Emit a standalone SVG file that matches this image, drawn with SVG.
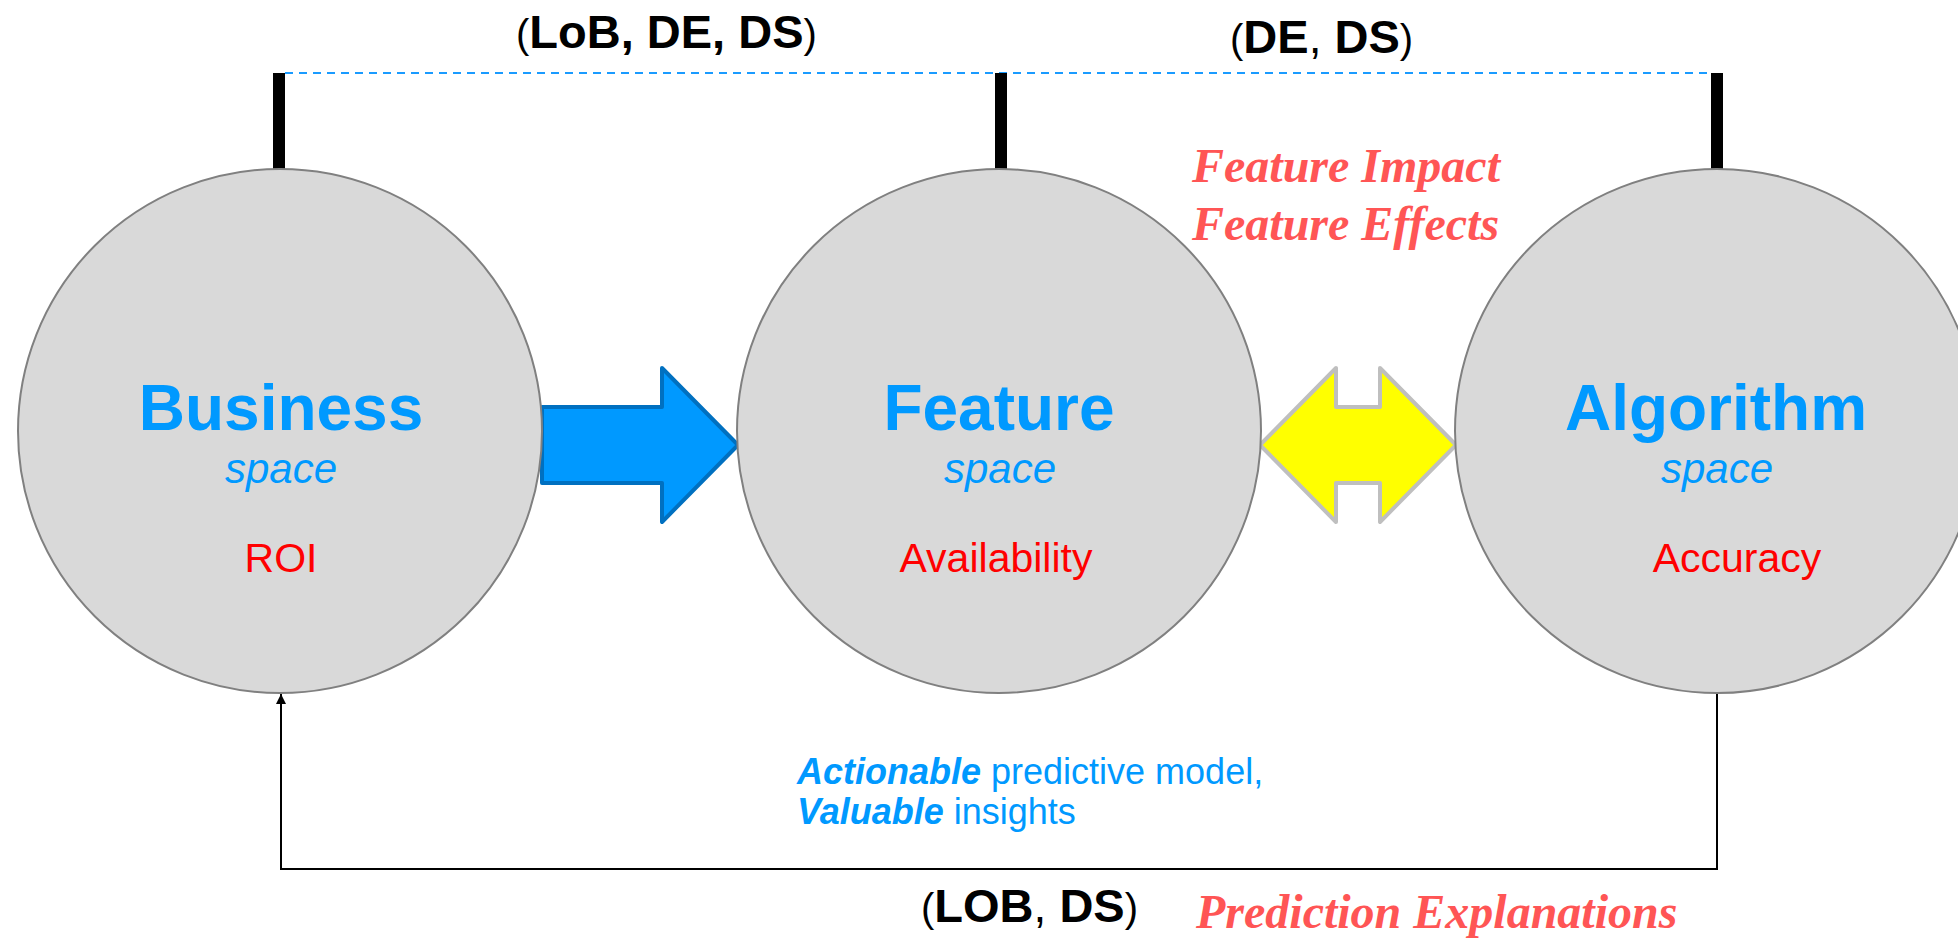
<svg xmlns="http://www.w3.org/2000/svg" width="1958" height="938" viewBox="0 0 1958 938">
<style>
.circ{fill:#d9d9d9;stroke:#808080;stroke-width:2}
.bar{fill:#000}
.title{font-family:"Liberation Sans",Arial,sans-serif;font-weight:bold;font-size:64px;fill:#0099ff;text-anchor:middle}
.sub{font-family:"Liberation Sans",Arial,sans-serif;font-style:italic;font-size:42px;fill:#0099ff;text-anchor:middle}
.metric{font-family:"Liberation Sans",Arial,sans-serif;font-size:41px;fill:#ff0000;text-anchor:middle}
.role{font-family:"Liberation Sans",Arial,sans-serif;fill:#000}
.role .b{font-weight:bold;font-size:47px}
.role .p{font-size:40px}
.role .c{font-size:46px}
.expl{font-family:"Liberation Serif","Times New Roman",serif;font-weight:bold;font-style:italic;font-size:48px;fill:#ff5555}
.out{font-family:"Liberation Sans",Arial,sans-serif;font-size:36px;fill:#0099ff}
.out .bi{font-weight:bold;font-style:italic}
</style>
<defs>
<marker id="ah" viewBox="0 0 10 10" refX="10" refY="5" markerWidth="10" markerHeight="12" markerUnits="userSpaceOnUse" orient="auto">
<path d="M0,0 L10,5 L0,10 z" fill="#000"/>
</marker>
</defs>

<g id="connectors">
<line x1="285" y1="73" x2="1711" y2="73" stroke="#1a9bff" stroke-width="2" stroke-dasharray="8,6"/>
<polyline points="1717,694 1717,869 281,869 281,694" fill="none" stroke="#000" stroke-width="2" marker-end="url(#ah)"/>
<path id="arrow-business-feature" d="M542,407 L662,407 L662,368 L738,445 L662,522 L662,483 L542,483 z" fill="#0099ff" stroke="#0070c0" stroke-width="4" stroke-linejoin="round"/>
<path id="arrow-feature-algorithm" d="M1260,445 L1336,368 L1336,407 L1380,407 L1380,368 L1456,445 L1380,522 L1380,483 L1336,483 L1336,522 z" fill="#ffff00" stroke="#bfbfbf" stroke-width="4" stroke-linejoin="round"/>
</g>

<g id="bars">
<rect class="bar" x="273" y="73" width="12" height="96"/>
<rect class="bar" x="995" y="73" width="12" height="96"/>
<rect class="bar" x="1711" y="73" width="12" height="96"/>
</g>

<g id="business">
<circle class="circ" cx="280" cy="431" r="262"/>
<text class="title" x="281" y="430">Business</text>
<text class="sub" x="281" y="483">space</text>
<text class="metric" x="281" y="572">ROI</text>
</g>

<g id="feature">
<circle class="circ" cx="999" cy="431" r="262"/>
<text class="title" x="999" y="430">Feature</text>
<text class="sub" x="1000" y="483">space</text>
<text class="metric" x="996" y="572">Availability</text>
</g>

<g id="algorithm">
<circle class="circ" cx="1717" cy="431" r="262"/>
<text class="title" x="1716" y="430">Algorithm</text>
<text class="sub" x="1717" y="483">space</text>
<text class="metric" x="1737" y="572">Accuracy</text>
</g>

<g id="labels">
<text class="role" x="516" y="48"><tspan class="p">(</tspan><tspan class="b">LoB, DE, DS</tspan><tspan class="p">)</tspan></text>
<text class="role" x="1230" y="53"><tspan class="p">(</tspan><tspan class="b">DE</tspan><tspan class="c">,</tspan><tspan class="b"> DS</tspan><tspan class="p">)</tspan></text>
<text class="role" x="921" y="922"><tspan class="p">(</tspan><tspan class="b">LOB</tspan><tspan class="c">,</tspan><tspan class="b"> DS</tspan><tspan class="p">)</tspan></text>
<text class="expl" x="1192" y="182">Feature Impact</text>
<text class="expl" x="1192" y="240">Feature Effects</text>
<text class="expl" x="1196" y="928">Prediction Explanations</text>
<text class="out" x="797" y="784"><tspan class="bi">Actionable</tspan> predictive model,</text>
<text class="out" x="797" y="824"><tspan class="bi">Valuable</tspan> insights</text>
</g>
</svg>
